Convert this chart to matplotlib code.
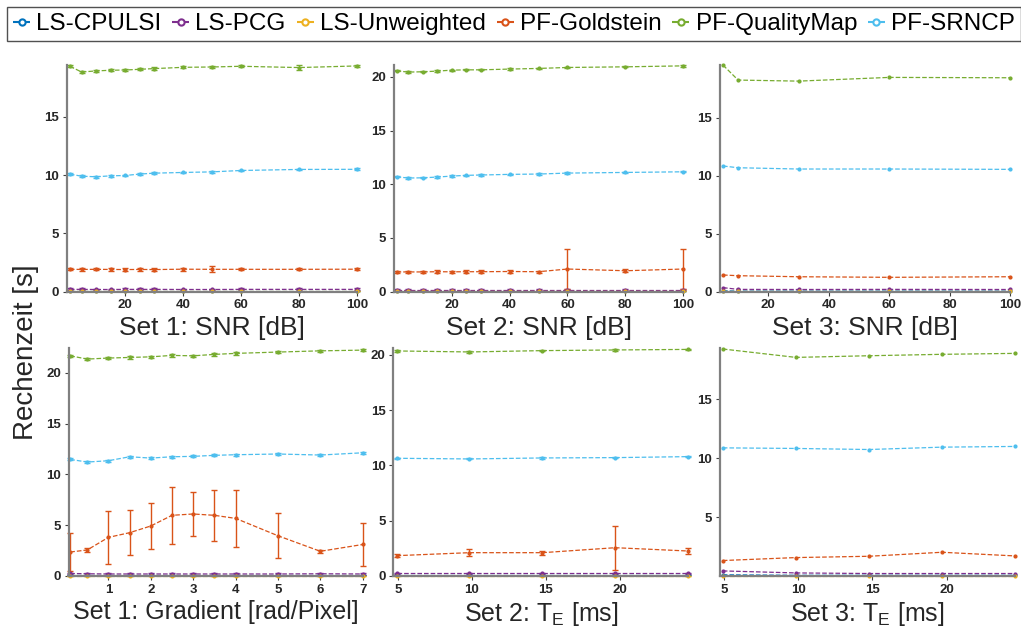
import matplotlib
matplotlib.use('Agg')
import matplotlib.pyplot as plt
from matplotlib.lines import Line2D

plt.rcParams['font.family'] = ['Liberation Sans', 'DejaVu Sans']

W, H = 1021, 628

methods = ['LS-CPULSI', 'LS-PCG', 'LS-Unweighted', 'PF-Goldstein', 'PF-QualityMap', 'PF-SRNCP']
colors = ['#0072BD', '#7E2F8E', '#EDB120', '#D95319', '#77AC30', '#4DBEEE']

# x values
snr12 = [1, 5, 10, 15, 20, 25, 30, 40, 50, 60, 80, 100]
snr3 = [5, 10, 30, 60, 100]
grad1 = [0.1, 0.5, 1, 1.5, 2, 2.5, 3, 3.5, 4, 5, 6, 7]
te = [4.92, 9.84, 14.76, 19.68, 24.6]

# Set 1: SNR
s1_cpulsi = [0.06] * 12
s1_pcg = [0.2, 0.2, 0.19, 0.19, 0.2, 0.2, 0.2, 0.19, 0.19, 0.2, 0.2, 0.2]
s1_unw = [0.02] * 12
s1_gold = [1.92, 1.91, 1.92, 1.91, 1.9, 1.91, 1.9, 1.93, 1.92, 1.92, 1.92, 1.93]
s1_gold_err = [0.1, 0.1, 0.1, 0.1, 0.1, 0.1, 0.1, 0.12, 0.25, 0.1, 0.1, 0.1]
s1_qm = [19.34, 18.85, 18.94, 19.0, 19.02, 19.08, 19.14, 19.25, 19.28, 19.34, 19.23, 19.37]
s1_qm_err = [0.1, 0.1, 0.1, 0.1, 0.08, 0.08, 0.1, 0.1, 0.12, 0.1, 0.2, 0.1]
s1_srncp = [10.09, 9.91, 9.86, 9.94, 9.97, 10.09, 10.17, 10.23, 10.28, 10.4, 10.49, 10.5]
s1_srncp_err = [0.08] * 12

# Set 2: SNR
s2_cpulsi = [0.06] * 12
s2_pcg = [0.2] * 12
s2_unw = [0.02] * 12
s2_gold = [1.84, 1.84, 1.84, 1.86, 1.85, 1.86, 1.86, 1.88, 1.86, 2.11, 1.95, 2.11]
s2_gold_err = [0.1, 0.1, 0.1, 0.15, 0.1, 0.12, 0.15, 0.12, 0.1, 1.86, 0.15, 1.9]
s2_qm = [20.56, 20.44, 20.47, 20.53, 20.62, 20.65, 20.65, 20.72, 20.78, 20.87, 20.93, 21.02]
s2_qm_err = [0.06] * 12
s2_srncp = [10.7, 10.58, 10.6, 10.67, 10.76, 10.83, 10.86, 10.92, 10.95, 11.04, 11.1, 11.16]
s2_srncp_err = [0.06] * 12

# Set 3: SNR
s3_cpulsi = [0.08, 0.05, 0.05, 0.05, 0.05]
s3_pcg = [0.35, 0.2, 0.19, 0.2, 0.19]
s3_unw = [0.02] * 5
s3_gold = [1.44, 1.38, 1.29, 1.24, 1.29]
s3_qm = [19.54, 18.25, 18.16, 18.48, 18.45]
s3_srncp = [10.84, 10.69, 10.58, 10.58, 10.55]

# Set 1: Gradient
g1_cpulsi = [0.06] * 12
g1_pcg = [0.25, 0.22, 0.2, 0.2, 0.2, 0.2, 0.2, 0.2, 0.2, 0.2, 0.22, 0.2]
g1_unw = [0.02] * 12
g1_gold = [2.36, 2.56, 3.8, 4.26, 4.92, 5.97, 6.1, 5.97, 5.67, 3.96, 2.43, 3.1]
g1_gold_err = [1.9, 0.15, 2.6, 2.2, 2.3, 2.8, 2.15, 2.5, 2.8, 2.2, 0.12, 2.1]
g1_qm = [21.66, 21.34, 21.44, 21.5, 21.56, 21.7, 21.66, 21.8, 21.9, 22.03, 22.15, 22.22]
g1_qm_err = [0.12] * 12
g1_srncp = [11.47, 11.21, 11.34, 11.73, 11.6, 11.73, 11.77, 11.87, 11.93, 12.0, 11.9, 12.12]
g1_srncp_err = [0.1] * 12

# Set 2: TE
t2_cpulsi = [0.06] * 5
t2_pcg = [0.24] * 5
t2_unw = [0.02] * 5
t2_gold = [1.84, 2.11, 2.11, 2.56, 2.26]
t2_gold_err = [0.12, 0.3, 0.18, 2.0, 0.25]
t2_qm = [20.36, 20.27, 20.39, 20.45, 20.5]
t2_qm_err = [0.05] * 5
t2_srncp = [10.65, 10.59, 10.68, 10.71, 10.8]
t2_srncp_err = [0.05] * 5

# Set 3: TE
t3_cpulsi = [0.12, 0.08, 0.08, 0.08, 0.08]
t3_pcg = [0.45, 0.28, 0.23, 0.23, 0.23]
t3_unw = [0.02] * 5
t3_gold = [1.33, 1.58, 1.69, 2.03, 1.72]
t3_qm = [19.24, 18.53, 18.67, 18.79, 18.87]
t3_srncp = [10.87, 10.82, 10.73, 10.93, 10.99]

xlabels = ['Set 1: SNR [dB]', 'Set 2: SNR [dB]', 'Set 3: SNR [dB]',
           'Set 1: Gradient [rad/Pixel]', 'Set 2: T$_\\mathregular{E}$ [ms]', 'Set 3: T$_\\mathregular{E}$ [ms]']
xlabel_sizes = [19, 19, 19, 18, 18, 18]


def z(n):
    return [0] * n


panels = [
    (snr12, [s1_cpulsi, s1_pcg, s1_unw, s1_gold, s1_qm, s1_srncp],
     [z(12), [0.08] * 12, z(12), s1_gold_err, s1_qm_err, s1_srncp_err]),
    (snr12, [s2_cpulsi, s2_pcg, s2_unw, s2_gold, s2_qm, s2_srncp],
     [z(12), [0.05] * 12, z(12), s2_gold_err, s2_qm_err, s2_srncp_err]),
    (snr3, [s3_cpulsi, s3_pcg, s3_unw, s3_gold, s3_qm, s3_srncp], None),
    (grad1, [g1_cpulsi, g1_pcg, g1_unw, g1_gold, g1_qm, g1_srncp],
     [z(12), [0.08] * 12, z(12), g1_gold_err, g1_qm_err, g1_srncp_err]),
    (te, [t2_cpulsi, t2_pcg, t2_unw, t2_gold, t2_qm, t2_srncp],
     [z(5), [0.05] * 5, z(5), t2_gold_err, t2_qm_err, t2_srncp_err]),
    (te, [t3_cpulsi, t3_pcg, t3_unw, t3_gold, t3_qm, t3_srncp], None),
]

# axes boxes in pixels: left, top, right, bottom
boxes = [(67, 65, 357, 291.7), (393.7, 65, 683.3, 291.7), (720, 65, 1010, 291.7),
         (69, 348.3, 362.7, 576), (393.3, 348.3, 688.3, 576), (720, 348.3, 1015, 576)]
xlims = [(0, 100), (0, 100), (4, 100), (0.07, 7), (4.7, 24.6), (4.73, 24.6)]
ylims = [(0, 19.45), (0, 21.1), (0, 19.55), (0, 22.4), (0, 20.6), (0.02, 19.3)]
xticks = [[20, 40, 60, 80, 100], [20, 40, 60, 80, 100], [20, 40, 60, 80, 100],
          [1, 2, 3, 4, 5, 6, 7], [5, 10, 15, 20], [5, 10, 15, 20]]
yticks = [[0, 5, 10, 15], [0, 5, 10, 15, 20], [0, 5, 10, 15],
          [0, 5, 10, 15, 20], [0, 5, 10, 15, 20], [5, 10, 15]]

fig = plt.figure(figsize=(W / 100, H / 100), dpi=100)

for i in range(6):
    l, t, r, b = boxes[i]
    ax = fig.add_axes([l / W, 1 - b / H, (r - l) / W, (b - t) / H])
    x, series, errs = panels[i]
    for k in range(6):
        if errs is None:
            ax.plot(x, series[k], '--', color=colors[k], lw=0.9, marker='.', ms=4, clip_on=False)
        else:
            ax.errorbar(x, series[k], yerr=errs[k], fmt='.--', color=colors[k], lw=0.9, ms=4,
                        elinewidth=1.0, capsize=2.5, capthick=1.0, clip_on=False)
    ax.set_xlim(xlims[i])
    ax.set_ylim(ylims[i])
    ax.set_xticks(xticks[i])
    ax.set_yticks(yticks[i])
    for s in ['top', 'right']:
        ax.spines[s].set_visible(False)
    for s in ['left', 'bottom']:
        ax.spines[s].set_color('#808080')
        ax.spines[s].set_linewidth(1.6)
    ax.tick_params(direction='out', length=3, width=0.8, color='#404040',
                   labelsize=9.5, labelcolor='#262626', pad=2.5)
    for lab in ax.get_xticklabels() + ax.get_yticklabels():
        lab.set_fontweight('bold')
    ax.set_xlabel(xlabels[i], fontsize=xlabel_sizes[i], color='#262626', labelpad=3)

fig.text(26 / W, 1 - 352 / H, 'Rechenzeit [s]', rotation=90, fontsize=20,
         color='#262626', ha='center', va='center')

handles = [Line2D([], [], color=c, ls='--', lw=1.5, marker='o', ms=4.5, mfc='white', mew=1.5)
           for c in colors]
leg = fig.legend(handles, methods, loc='upper left', bbox_to_anchor=(7 / W, 1 - 7 / H),
                 ncol=6, fontsize=17.5, frameon=True, fancybox=False, handlelength=0.7,
                 handletextpad=0.25, columnspacing=0.45, borderpad=0.25, borderaxespad=0)
leg.get_frame().set_edgecolor('#262626')
leg.get_frame().set_linewidth(1.0)

fig.savefig('out.png', dpi=100)
